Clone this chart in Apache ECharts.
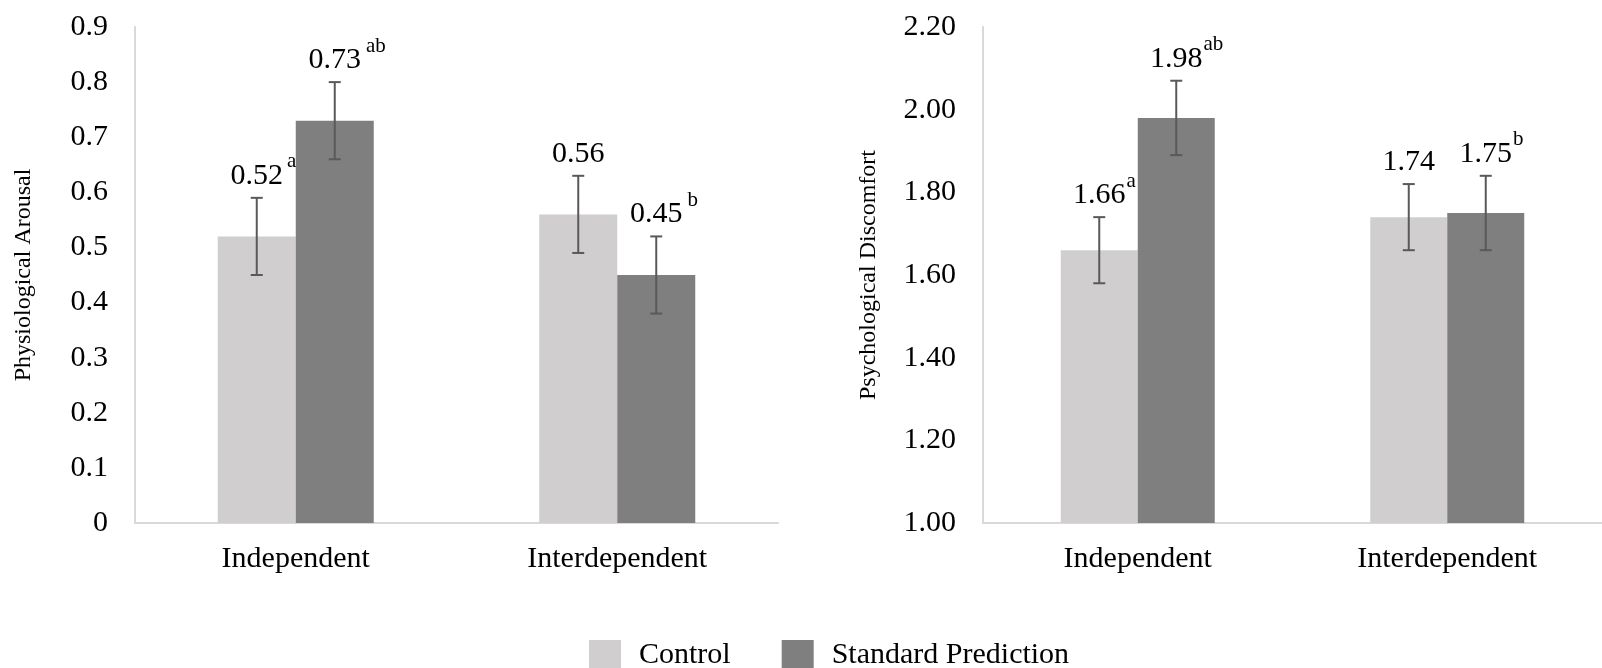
<!DOCTYPE html>
<html>
<head>
<meta charset="utf-8">
<script src="https://cdn.jsdelivr.net/npm/echarts@6/dist/echarts.min.js"></script>
<style>
html,body{margin:0;padding:0;background:#fff;}
#chart{width:1602px;height:668px;}
</style>
</head>
<body>
<div id="chart"></div>
<script>
const categories = ['Independent', 'Interdependent'];
const seriesNames = ['Control', 'Standard Prediction'];

const arousalControl = [0.52, 0.56];
const arousalControlErr = [0.07, 0.07];
const arousalControlSup = ['a', ''];
const arousalStandard = [0.73, 0.45];
const arousalStandardErr = [0.07, 0.07];
const arousalStandardSup = ['ab', 'b'];

const discomfortControl = [1.66, 1.74];
const discomfortControlErr = [0.08, 0.08];
const discomfortControlSup = ['a', ''];
const discomfortStandard = [1.98, 1.75];
const discomfortStandardErr = [0.09, 0.09];
const discomfortStandardSup = ['ab', 'b'];

const arousalAxis = { min: 0, max: 0.9, interval: 0.1, decimals: null, title: 'Physiological Arousal' };
const discomfortAxis = { min: 1.0, max: 2.2, interval: 0.2, decimals: 2, title: 'Psychological Discomfort' };

const COLORS = ['#d0cece', '#7f7f7f'];
const ERR_COLOR = '#595959';
const FONT = "'Liberation Serif', 'Times New Roman', serif";
const NUM_SIZE = 30, SUP_SIZE = 21;

const measureCtx = document.createElement('canvas').getContext('2d');
function textWidth(s, size) {
  measureCtx.font = size + 'px ' + FONT;
  return measureCtx.measureText(s).width;
}

function errSeries(gridIdx, values, errs, sups, offset, supGap) {
  return {
    type: 'custom',
    xAxisIndex: gridIdx, yAxisIndex: gridIdx,
    z: 10,
    data: values.map((v, i) => [i, v, errs[i]]),
    renderItem: function (params, api) {
      const i = api.value(0), v = api.value(1), e = api.value(2);
      const top = api.coord([i, v + e]);
      const bot = api.coord([i, v - e]);
      const x = top[0] + offset;
      const cap = 6;
      const lbl = v.toFixed(2);
      const w = textWidth(lbl, NUM_SIZE);
      const style = { stroke: ERR_COLOR, lineWidth: 2 };
      const children = [
        { type: 'line', shape: { x1: x, y1: top[1], x2: x, y2: bot[1] }, style: style },
        { type: 'line', shape: { x1: x - cap, y1: top[1], x2: x + cap, y2: top[1] }, style: style },
        { type: 'line', shape: { x1: x - cap, y1: bot[1], x2: x + cap, y2: bot[1] }, style: style },
        { type: 'text', x: x, y: top[1] - 22, style: { text: lbl, fill: '#000', font: NUM_SIZE + 'px ' + FONT, textAlign: 'center', textVerticalAlign: 'middle' } }
      ];
      const sup = sups[params.dataIndex];
      if (sup) {
        children.push({ type: 'text', x: x + w / 2 + supGap, y: top[1] - 36, style: { text: sup, fill: '#000', font: SUP_SIZE + 'px ' + FONT, textAlign: 'left', textVerticalAlign: 'middle' } });
      }
      return { type: 'group', children: children };
    }
  };
}

const grids = [
  { left: 135, top: 27, width: 643, height: 496 },
  { left: 983, top: 27, width: 636, height: 496 }
];
const barWidths = [78, 77];

function xAxis(gi) {
  return {
    type: 'category', gridIndex: gi, data: categories,
    axisLine: { lineStyle: { color: '#d9d9d9', width: 2 } },
    axisTick: { show: false },
    axisLabel: { color: '#000', fontSize: 30, fontFamily: FONT, margin: 21, interval: 0 }
  };
}
function yAxis(gi, ax, nameGap) {
  return {
    type: 'value', gridIndex: gi, min: ax.min, max: ax.max, interval: ax.interval,
    name: ax.title, nameLocation: 'middle', nameGap: nameGap,
    nameTextStyle: { color: '#000', fontSize: 24, fontFamily: FONT },
    axisLine: { show: true, lineStyle: { color: '#d9d9d9', width: 2 } },
    axisTick: { show: false },
    splitLine: { show: false },
    axisLabel: {
      color: '#000', fontSize: 30, fontFamily: FONT, margin: 27,
      formatter: v => ax.decimals == null ? String(+v.toFixed(1)) : v.toFixed(ax.decimals)
    }
  };
}

function barSeries(gi, name, data, color) {
  return {
    type: 'bar', name: name, xAxisIndex: gi, yAxisIndex: gi, data: data,
    barWidth: barWidths[gi], barGap: '0%',
    itemStyle: { color: color },
    emphasis: { disabled: true }
  };
}

const option = {
  animation: false,
  backgroundColor: '#fff',
  grid: grids,
  xAxis: [xAxis(0), xAxis(1)],
  yAxis: [yAxis(0, arousalAxis, 99), yAxis(1, discomfortAxis, 102)],
  legend: {
    data: seriesNames,
    left: 584, top: 635,
    itemWidth: 32, itemHeight: 30, itemGap: 51,
    icon: 'rect',
    textStyle: { color: '#000', fontSize: 30, fontFamily: FONT, padding: [0, 0, 0, 13] }
  },
  series: [
    barSeries(0, seriesNames[0], arousalControl, COLORS[0]),
    barSeries(0, seriesNames[1], arousalStandard, COLORS[1]),
    barSeries(1, seriesNames[0], discomfortControl, COLORS[0]),
    barSeries(1, seriesNames[1], discomfortStandard, COLORS[1]),
    errSeries(0, arousalControl, arousalControlErr, arousalControlSup, -barWidths[0] / 2, 4),
    errSeries(0, arousalStandard, arousalStandardErr, arousalStandardSup, barWidths[0] / 2, 5),
    errSeries(1, discomfortControl, discomfortControlErr, discomfortControlSup, -barWidths[1] / 2, 1),
    errSeries(1, discomfortStandard, discomfortStandardErr, discomfortStandardSup, barWidths[1] / 2, 1)
  ]
};

const chart = echarts.init(document.getElementById('chart'), null, { renderer: 'canvas' });
chart.setOption(option);
</script>
</body>
</html>
